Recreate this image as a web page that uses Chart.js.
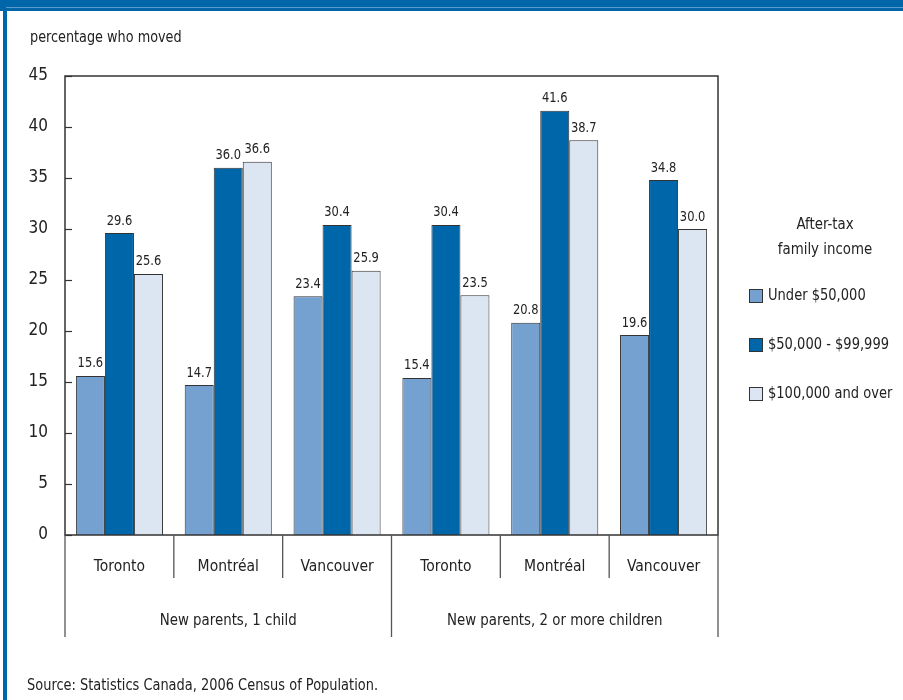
<!DOCTYPE html>
<html><head><meta charset="utf-8">
<script src="https://cdn.jsdelivr.net/npm/chart.js@4/dist/chart.umd.min.js"></script>
<style>html,body{margin:0;padding:0;background:#fff}#wrap{width:903px;height:700px;position:relative}</style>
</head><body><div id="wrap"><canvas id="c" width="903" height="700"></canvas></div>
<script>
const cities = ['Toronto', 'Montréal', 'Vancouver', 'Toronto', 'Montréal', 'Vancouver'];
const groups = ['New parents, 1 child', 'New parents, 2 or more children'];
const seriesNames = ['Under $50,000', '$50,000 - $99,999', '$100,000 and over'];
const under50k = [15.6, 14.7, 23.4, 15.4, 20.8, 19.6];
const from50to99k = [29.6, 36.0, 30.4, 30.4, 41.6, 34.8];
const over100k = [25.6, 36.6, 25.9, 23.5, 38.7, 30.0];
const yTicks = [0, 5, 10, 15, 20, 25, 30, 35, 40, 45];
const legendTitle = ['After-tax', 'family income'];
const axisTitle = 'percentage who moved';
const sourceText = 'Source: Statistics Canada, 2006 Census of Population.';

const FONT = "'Liberation Sans Narrow', 'DejaVu Sans Condensed', 'Roboto Condensed', 'Liberation Sans', sans-serif";
const colors = ['#74a1cf', '#0066aa', '#dce6f2'];
const edge = '#333333';
const TXT = '#222222';

function txt(ctx, s, x, y, size, align, baseline, sx) {
  ctx.save();
  ctx.font = size + 'px ' + FONT;
  ctx.textAlign = align;
  ctx.textBaseline = baseline;
  ctx.translate(x, y);
  ctx.scale(sx, 1);
  ctx.fillText(s, 0, 0);
  ctx.restore();
}

const deco = {
  id: 'deco',
  beforeDraw(chart) {
    const ctx = chart.ctx;
    ctx.save();
    ctx.fillStyle = '#ffffff';
    ctx.fillRect(0, 0, chart.width, chart.height);
    ctx.fillStyle = '#0066aa';
    ctx.fillRect(0, 0, chart.width, 11);
    ctx.fillRect(3, 0, 4, chart.height);
    ctx.fillStyle = '#5b9bd0';
    ctx.fillRect(6, 7, chart.width - 6, 1);
    ctx.restore();
  },
  afterDraw(chart) {
    const ctx = chart.ctx;
    const a = chart.chartArea;
    const xs = chart.scales.x, ys = chart.scales.y;
    ctx.save();
    // frame
    ctx.strokeStyle = edge;
    ctx.lineWidth = 1.5;
    ctx.strokeRect(a.left, a.top, a.right - a.left, a.bottom - a.top);
    // inward ticks
    ctx.lineWidth = 1.2;
    yTicks.forEach(v => {
      const y = Math.round(ys.getPixelForValue(v)) + 0.5;
      ctx.beginPath(); ctx.moveTo(a.left, y); ctx.lineTo(a.left + 7, y); ctx.stroke();
    });
    // separators
    ctx.strokeStyle = '#555555';
    ctx.lineWidth = 1.3;
    const n = cities.length;
    for (let i = 0; i <= n; i++) {
      let x;
      if (i === 0) x = a.left;
      else if (i === n) x = a.right;
      else x = (xs.getPixelForValue(i - 1) + xs.getPixelForValue(i)) / 2;
      const isGroup = (i % 3 === 0);
      ctx.beginPath();
      ctx.moveTo(x, a.bottom);
      ctx.lineTo(x, isGroup ? a.bottom + 102 : a.bottom + 43);
      ctx.stroke();
    }
    ctx.fillStyle = TXT;
    // group labels
    groups.forEach((g, gi) => {
      const x = (xs.getPixelForValue(gi * 3) + xs.getPixelForValue(gi * 3 + 2)) / 2;
      txt(ctx, g, x, a.bottom + 86, 16.5, 'center', 'middle', 0.9);
    });
    // value labels
    chart.data.datasets.forEach((ds, di) => {
      const meta = chart.getDatasetMeta(di);
      meta.data.forEach((el, i) => {
        txt(ctx, ds.data[i].toFixed(1), el.x, el.y - 5, 14.5, 'center', 'bottom', 0.88);
      });
    });
    // axis title
    txt(ctx, axisTitle, 30, 38, 15.5, 'left', 'middle', 0.92);
    // source
    txt(ctx, sourceText, 27, 686, 15.5, 'left', 'middle', 0.93);
    // legend
    txt(ctx, legendTitle[0], 825, 225, 16.5, 'center', 'middle', 0.9);
    txt(ctx, legendTitle[1], 825, 250, 16.5, 'center', 'middle', 0.9);
    seriesNames.forEach((s, i) => {
      const y = 296 + i * 49;
      ctx.fillStyle = colors[i];
      ctx.fillRect(749, y - 7, 14, 14);
      ctx.strokeStyle = edge;
      ctx.lineWidth = 1;
      ctx.strokeRect(749.5, y - 6.5, 13, 13);
      ctx.fillStyle = TXT;
      txt(ctx, s, 768, y, 16.5, 'left', 'middle', 0.88);
    });
    ctx.restore();
  }
};

const datasets = [under50k, from50to99k, over100k].map((d, i) => ({
  label: seriesNames[i],
  data: d,
  backgroundColor: colors[i],
  borderColor: edge,
  borderWidth: 1,
  barPercentage: 1.0,
  categoryPercentage: 0.8
}));

new Chart(document.getElementById('c'), {
  type: 'bar',
  data: { labels: cities, datasets },
  options: {
    responsive: false,
    devicePixelRatio: 1,
    animation: false,
    layout: { padding: { left: 0, top: 76, right: 185, bottom: 63 } },
    plugins: { legend: { display: false }, tooltip: { enabled: false } },
    scales: {
      x: {
        grid: { display: false, drawTicks: false },
        border: { display: false },
        ticks: { color: TXT, font: { family: FONT, size: 15.5 }, padding: 23, maxRotation: 0, autoSkip: false },
        afterFit(s) { s.height = 102; }
      },
      y: {
        min: 0, max: 45,
        afterBuildTicks(s) { s.ticks = yTicks.map(v => ({ value: v })); },
        grid: { display: false, drawTicks: false },
        border: { display: false },
        ticks: { color: TXT, font: { family: FONT, size: 17 }, padding: 17 },
        afterFit(s) { s.width = 65; }
      }
    }
  },
  plugins: [deco]
});
</script>
</body></html>
